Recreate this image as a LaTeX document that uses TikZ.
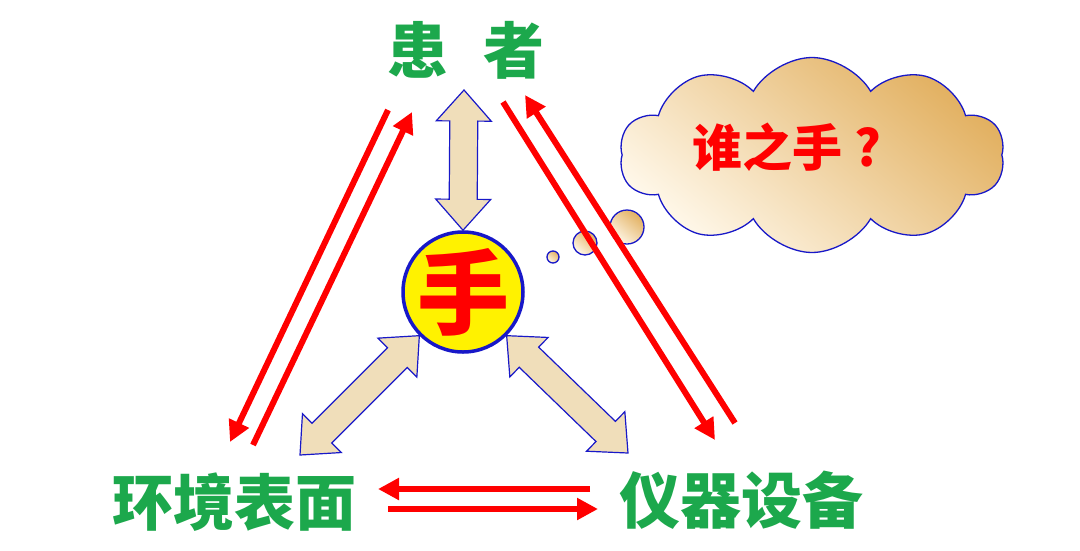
\documentclass[tikz,border=0pt]{standalone}
\usepackage{fontspec}
\usepackage{tikz}
\usetikzlibrary{arrows.meta,calc,shapes.symbols}
\newfontfamily\cjk{Noto Sans CJK SC}

\definecolor{sitegreen}{RGB}{28,168,76}
\definecolor{rimblue}{RGB}{24,24,200}
\definecolor{arrowtan}{RGB}{240,222,186}
\definecolor{cloudtan}{RGB}{226,176,96}
\definecolor{cloudlight}{RGB}{255,248,234}

% fat double arrow between two points
\newcommand{\blockarrow}[2]{%
  \draw[handarrow] (#1)
    -- ($(#1)!31pt!(#2)!27.5pt!90:(#2)$)
    -- ($(#1)!31pt!(#2)!14pt!90:(#2)$)
    -- ($(#2)!31pt!(#1)!14pt!-90:(#1)$)
    -- ($(#2)!31pt!(#1)!27.5pt!-90:(#1)$)
    -- (#2)
    -- ($(#2)!31pt!(#1)!27.5pt!90:(#1)$)
    -- ($(#2)!31pt!(#1)!14pt!90:(#1)$)
    -- ($(#1)!31pt!(#2)!14pt!-90:(#2)$)
    -- ($(#1)!31pt!(#2)!27.5pt!-90:(#2)$)
    -- cycle;}

\begin{document}
\begin{tikzpicture}[x=1pt,y=-1pt,
    site/.style={text=sitegreen, inner sep=0pt, font=\cjk\bfseries\fontsize{61}{61}\selectfont},
    flow/.style={draw=red, line width=6pt, -{Triangle[length=21pt,width=21pt]}},
    handarrow/.style={draw=rimblue, line width=1.2pt, fill=arrowtan, line join=miter},
    thought/.style={draw=rimblue, line width=1.3pt, shading=axis, top color=cloudtan, bottom color=cloudlight, shading angle=-40}]
  \useasboundingbox[fill=white] (0,0) rectangle (1080,550);

  % the thought cloud and its bubbles
  \node[cloud, thought, cloud puffs=10, cloud puff arc=120, aspect=1.9, minimum width=385pt, minimum height=195pt, inner sep=0pt] (cloud) at (812,155) {};
  \node[text=red, inner sep=0pt, font=\cjk\bfseries\fontsize{50}{50}\selectfont] (who) at (787,147) {谁之手\hspace{12pt}?};
  \node[circle, thought, minimum size=34pt, inner sep=0pt] (bubble1) at (627,227) {};
  \node[circle, thought, minimum size=24pt, inner sep=0pt] (bubble2) at (585,243) {};
  \node[circle, thought, minimum size=12pt, inner sep=0pt] (bubble3) at (553,257) {};

  % the three places
  \node[site] (patient) at (466,50) {患\hspace{36pt}者};
  \node[site] (surface) at (234,502) {环境表面};
  \node[site] (device) at (741,500) {仪器设备};

  % red arrows along the triangle
  \coordinate (ps-a) at (388,110);
  \coordinate (ps-b) at (230,442);
  \coordinate (sp-a) at (253,445);
  \coordinate (sp-b) at (412,112);
  \coordinate (pd-a) at (503,102);
  \coordinate (pd-b) at (715,440);
  \coordinate (dp-a) at (735,423);
  \coordinate (dp-b) at (525,95);
  \coordinate (ds-a) at (590,489);
  \coordinate (ds-b) at (378,489);
  \coordinate (sd-a) at (388,509);
  \coordinate (sd-b) at (598,509);
  \draw[flow] (ps-a) -- (ps-b);
  \draw[flow] (sp-a) -- (sp-b);
  \draw[flow] (pd-a) -- (pd-b);
  \draw[flow] (dp-a) -- (dp-b);
  \draw[flow] (ds-a) -- (ds-b);
  \draw[flow] (sd-a) -- (sd-b);

  % the hand in the middle
  \node[circle, draw=rimblue, line width=3.5pt, fill=yellow, minimum size=120pt, inner sep=0pt] (hand) at (463,292) {};
  \node[text=red, inner sep=0pt, font=\cjk\bfseries\fontsize{92}{92}\selectfont] (handtext) at (hand) {手};

  % fat arrows from the hand
  \coordinate (to-patient) at (464,90);
  \coordinate (to-surface) at (300,455);
  \coordinate (to-device) at (628,453);
  \blockarrow{hand.north}{to-patient}
  \blockarrow{hand.225}{to-surface}
  \blockarrow{hand.-45}{to-device}
\end{tikzpicture}
\end{document}
